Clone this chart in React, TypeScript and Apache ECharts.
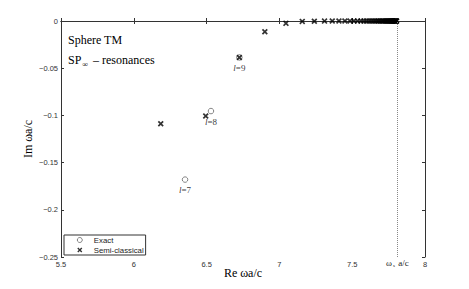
import React, { useEffect, useRef } from 'react';
import * as echarts from 'echarts';

// Exact resonances (Re, Im) with their angular momentum index l
const exactRe = [6.352, 6.53, 6.725];
const exactIm = [-0.168, -0.0954, -0.0386];
const exactL = [7, 8, 9];

// Semi-classical resonances
const semiRe = [
  6.185, 6.494, 6.725, 6.9, 7.045, 7.157, 7.24, 7.31, 7.363, 7.409, 7.45, 7.485,
  7.512, 7.537, 7.56, 7.58, 7.598, 7.615, 7.63, 7.644, 7.657, 7.669, 7.68, 7.69,
  7.7, 7.709, 7.717, 7.725, 7.732, 7.739, 7.745, 7.751, 7.757, 7.762, 7.767,
  7.772, 7.776, 7.78, 7.784, 7.788, 7.791, 7.794, 7.797, 7.8, 7.803, 7.805,
];
const semiIm = [
  -0.1089, -0.1007, -0.0386, -0.0114, -0.0025, -0.0004, -0.0002, -0.0001, 0, 0, 0, 0,
  0, 0, 0, 0, 0, 0, 0, 0, 0, 0, 0, 0,
  0, 0, 0, 0, 0, 0, 0, 0, 0, 0, 0,
  0, 0, 0, 0, 0, 0, 0, 0, 0, 0, 0,
];

const omegaS = 7.806;
const xRange = [5.5, 8];
const yRange = [-0.25, 0];
const xStep = 0.5;
const yStep = 0.05;

const CROSS = 'path://M0,2 L2,0 L5,3 L8,0 L10,2 L7,5 L10,8 L8,10 L5,7 L2,10 L0,8 L3,5 Z';

export default function App() {
  const ref = useRef<HTMLDivElement>(null);
  useEffect(() => {
    if (!ref.current) return;
    const chart = echarts.init(ref.current, null, { renderer: 'svg' });
    const axisLine = { show: true, lineStyle: { color: '#333', width: 1 } };
    const tickFont = { fontFamily: 'Liberation Sans', fontSize: 7.5, color: '#333' };
    const fmt = (v: number) => String(Number(v.toFixed(3))).replace('-', '\u2212');
    chart.setOption({
      animation: false,
      backgroundColor: '#fff',
      grid: { left: 61, top: 21, right: 44, bottom: 32 },
      xAxis: [
        {
          type: 'value', min: xRange[0], max: xRange[1], interval: xStep,
          axisLine, axisTick: { inside: true, length: 3, lineStyle: { color: '#333' } },
          splitLine: { show: false },
          axisLabel: { ...tickFont, margin: 3, formatter: fmt },
          name: 'Re \u03c9a/c', nameLocation: 'middle', nameGap: 10, nameMoveOverlap: false,
          nameTextStyle: { fontFamily: 'Liberation Serif', fontSize: 12, color: '#000' },
        },
        {
          type: 'value', position: 'top', min: xRange[0], max: xRange[1], interval: xStep,
          axisLine, axisTick: { inside: true, length: 3, lineStyle: { color: '#333' } },
          splitLine: { show: false }, axisLabel: { show: false },
        },
      ],
      yAxis: [
        {
          type: 'value', min: yRange[0], max: yRange[1], interval: yStep,
          axisLine, axisTick: { inside: true, length: 3, lineStyle: { color: '#333' } },
          splitLine: { show: false },
          axisLabel: { ...tickFont, margin: 3, formatter: fmt },
          name: 'Im \u03c9a/c', nameLocation: 'middle', nameGap: 27, nameMoveOverlap: false,
          nameTextStyle: { fontFamily: 'Liberation Serif', fontSize: 12, color: '#000' },
        },
        {
          type: 'value', position: 'right', min: yRange[0], max: yRange[1], interval: yStep,
          axisLine, axisTick: { inside: true, length: 3, lineStyle: { color: '#333' } },
          splitLine: { show: false }, axisLabel: { show: false },
        },
      ],
      legend: {
        orient: 'vertical', left: 64, top: 235,
        itemWidth: 18, itemHeight: 5, itemGap: 2,
        padding: [1, 2, 1, 13],
        borderColor: '#333', borderWidth: 1, backgroundColor: '#fff',
        textStyle: { fontFamily: 'Liberation Sans', fontSize: 7.8, color: '#222' },
        data: [
          { name: 'Exact', itemStyle: { color: '#fff', borderColor: '#000', borderWidth: 0.6 } },
          { name: 'Semi-classical', itemStyle: { color: '#000', borderWidth: 0 } },
        ],
      },
      graphic: [
        {
          type: 'text', left: 68, top: 34,
          style: { text: 'Sphere TM', font: '12px "Liberation Serif"', fill: '#000' },
        },
        {
          type: 'text', left: 68, top: 54,
          style: {
            text: 'SP{sub|\u221e} \u2013 resonances',
            font: '12px "Liberation Serif"', fill: '#000',
            rich: { sub: { fontFamily: 'Liberation Serif', fontSize: 8, padding: [8, 2, 0, 1] } },
          },
        },
      ],
      series: [
        {
          name: 'Exact', type: 'scatter', symbol: 'circle', symbolSize: 5.5, z: 2,
          itemStyle: { color: '#fff', borderColor: '#000', borderWidth: 0.6 },
          data: exactRe.map((x, i) => [x, exactIm[i]]),
          label: {
            show: true, position: 'bottom', distance: 3,
            color: '#000',
            formatter: (p: any) => `{i|l}{n|=${exactL[p.dataIndex]}}`,
            rich: {
              i: { fontFamily: 'Liberation Serif', fontSize: 9, fontStyle: 'italic', color: '#000' },
              n: { fontFamily: 'Liberation Serif', fontSize: 9, color: '#000' },
            },
          },
        },
        {
          name: 'Semi-classical', type: 'scatter', symbol: CROSS, symbolSize: 6, z: 3,
          itemStyle: { color: '#000' },
          data: semiRe.map((x, i) => [x, semiIm[i]]),
          markLine: {
            silent: true, symbol: 'none',
            lineStyle: { type: 'dotted', color: '#888', width: 1 },
            label: {
              show: true, position: 'start', distance: 0,
              formatter: '{w|\u03c9}{s|s}{w| a/c}',
              color: '#222',
              rich: {
                w: { fontFamily: 'Liberation Serif', fontSize: 9, color: '#222' },
                s: { fontFamily: 'Liberation Serif', fontSize: 5, color: '#222', padding: [6, 1, 0, 1] },
              },
            },
            data: [{ xAxis: omegaS }],
          },
        },
      ],
    });
    return () => chart.dispose();
  }, []);
  return (
    <div
      ref={ref}
      style={{ position: 'fixed', left: 0, top: 0, width: 469, height: 289, background: '#fff' }}
    />
  );
}
